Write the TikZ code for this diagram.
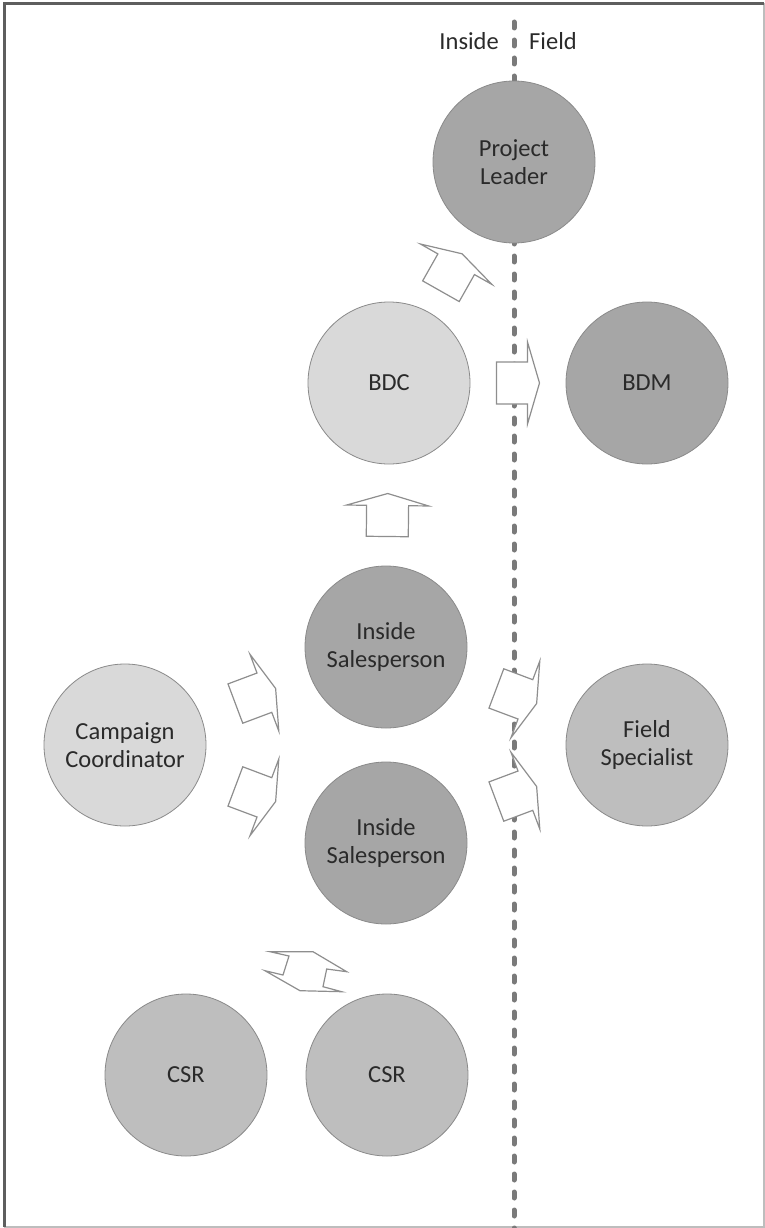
\documentclass[tikz,border=0pt]{standalone}
\usepackage{fontspec}
\setmainfont{Carlito}
\usetikzlibrary{calc}

\definecolor{darkfill}{HTML}{A6A6A6}
\definecolor{midfill}{HTML}{BEBEBE}
\definecolor{lightfill}{HTML}{D9D9D9}
\definecolor{rim}{HTML}{8A8A8A}
\definecolor{inkgray}{HTML}{2A2A2A}
\definecolor{divider}{HTML}{7A7A7A}
\definecolor{arrowline}{HTML}{8E8E8E}
\definecolor{framedark}{HTML}{5E5E5E}
\definecolor{framelight}{HTML}{BDBDBD}

\tikzset{
  labeltext/.style={font=\fontsize{24.5}{28}\selectfont, text=inkgray, inner sep=0pt},
  role/.style={circle, minimum size=162pt, inner sep=0pt, draw=rim, line width=0.8pt,
               align=center, labeltext},
  senior/.style={role, fill=darkfill},
  support/.style={role, fill=midfill},
  planner/.style={role, fill=lightfill},
  arrowoutline/.style={draw=arrowline, line width=1.2pt, fill=white, line join=miter},
  divide/.style={draw=divider, line width=5pt, line cap=round, dash pattern=on 6pt off 12pt},
  blockarrow/.pic={
    \path[arrowoutline] (-21.5,21) -- (9.5,21) -- (9.5,41) -- (21.5,0)
      -- (9.5,-41) -- (9.5,-21) -- (-21.5,-21) -- cycle;
  },
  handoff/.style={pos=0.5, sloped, allow upside down}
}

\begin{document}
\begin{tikzpicture}[x=1pt, y=-1pt]
  \useasboundingbox (0,0) rectangle (765,1228);

  % outer frame
  \draw[framelight, line width=2pt] (764,3) -- (764,1227) -- (4,1227);
  \draw[framedark, line width=2.6pt] (4.5,1227) -- (4.5,3.3) -- (764,3.3);

  % inside / field divider
  \coordinate (divtop) at (514,22);
  \coordinate (divbottom) at (514,1232);
  \draw[divide] (divtop) -- (divbottom);

  \node[labeltext, anchor=base east] (insidelabel) at (499,50) {Inside};
  \node[labeltext, anchor=base west] (fieldlabel) at (529,50) {Field};

  % roles
  \node[senior]  (pl)   at (514,162)  {Project\\Leader};
  \node[planner] (bdc)  at (389,383)  {BDC};
  \node[senior]  (bdm)  at (647,383)  {BDM};
  \node[senior]  (is1)  at (386,647)  {Inside\\Salesperson};
  \node[senior]  (is2)  at (386,843)  {Inside\\Salesperson};
  \node[planner] (cc)   at (125,745)  {Campaign\\Coordinator};
  \node[support] (fs)   at (647,745)  {Field\\Specialist};
  \node[support] (csr1) at (186,1075) {CSR};
  \node[support] (csr2) at (387,1075) {CSR};

  % hand-off arrows
  \path (bdc.center) -- (pl.center)  pic[handoff] {blockarrow};
  \path (bdc.center) -- (bdm.center) pic[handoff] {blockarrow};
  \path (is1.center) -- (bdc.center) pic[handoff] {blockarrow};
  \path (cc.center)  -- (is1.center) pic[handoff] {blockarrow};
  \path (cc.center)  -- (is2.center) pic[handoff] {blockarrow};
  \path (is1.center) -- (fs.center)  pic[handoff] {blockarrow};
  \path (is2.center) -- (fs.center)  pic[handoff] {blockarrow};

  % two-way arrow among the CSRs
  \path[arrowoutline] (270,951.7) -- (313,951.7) -- (346.7,971.7) -- (326.7,969)
    -- (323,986.7) -- (341.7,991.7) -- (300,990.7) -- (265,970.7)
    -- (283,975) -- (289,956) -- cycle;
\end{tikzpicture}
\end{document}
